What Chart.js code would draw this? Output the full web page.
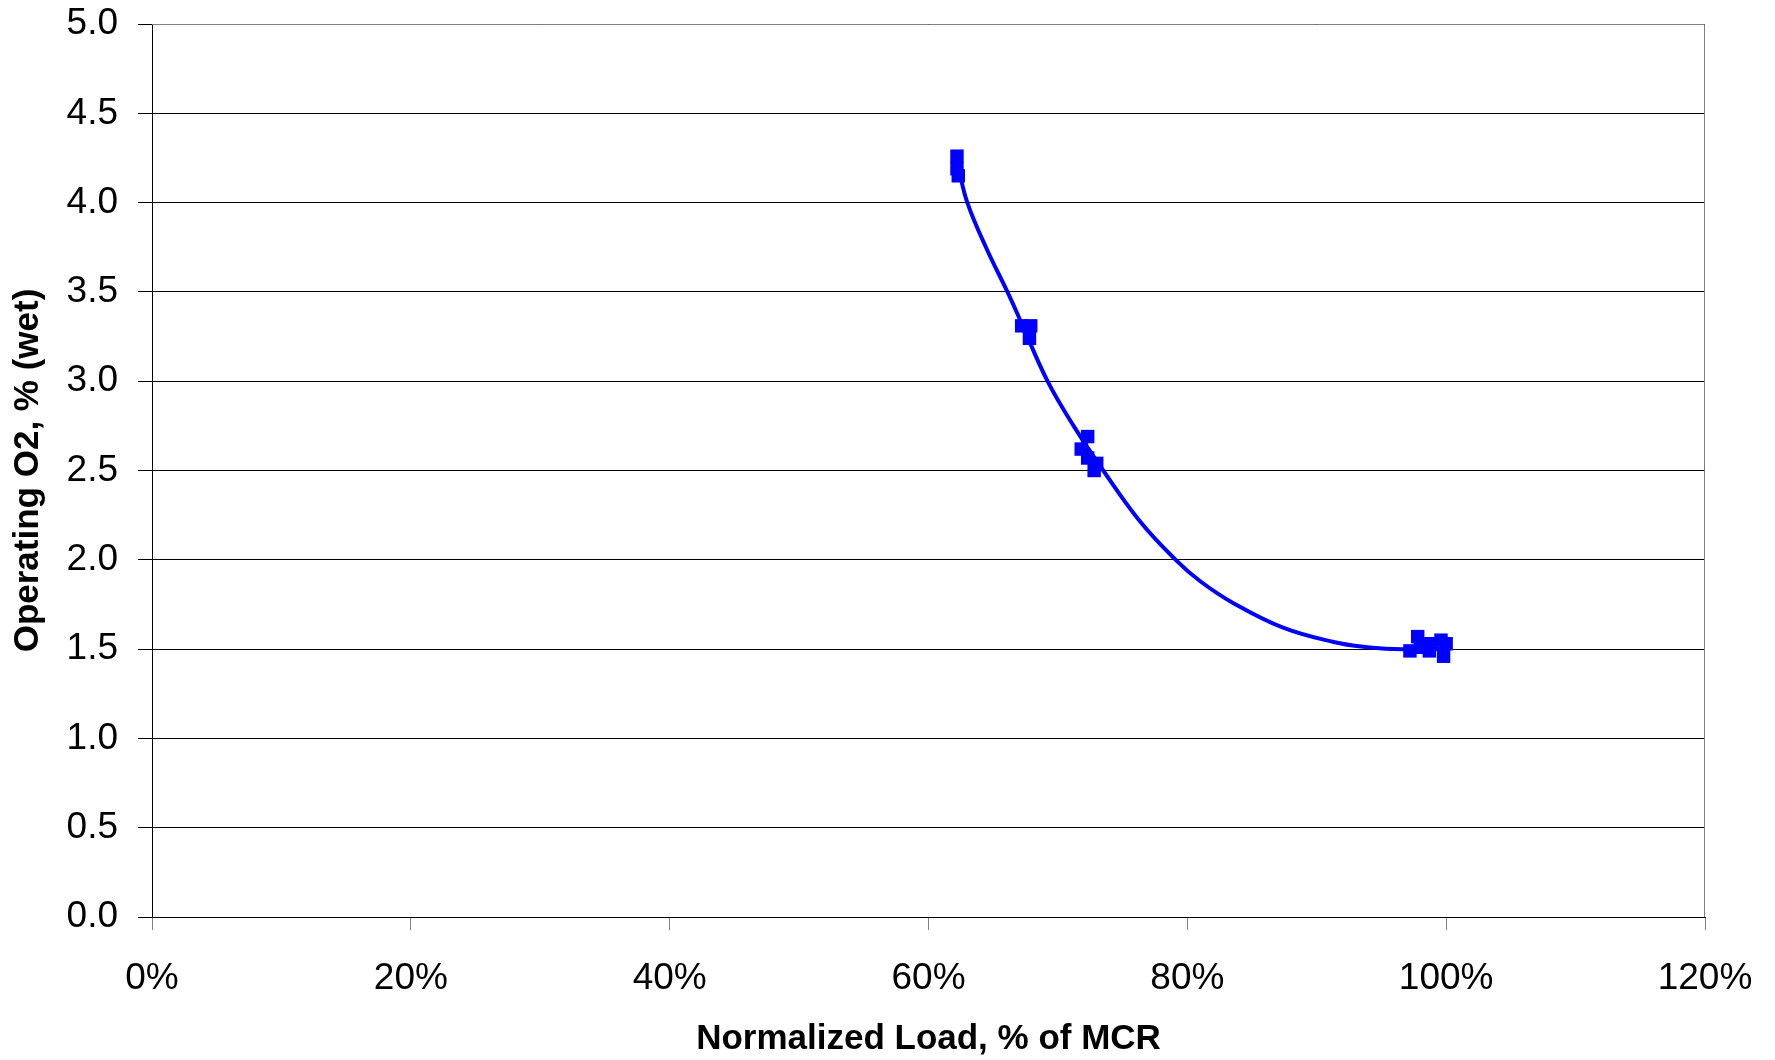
<!DOCTYPE html>
<html>
<head>
<meta charset="utf-8">
<script src="https://cdn.jsdelivr.net/npm/chart.js@4.4.1/dist/chart.umd.min.js"></script>
<style>
  html, body { margin: 0; padding: 0; background: #fff; }
  .chart-container { width: 1775px; height: 1060px; position: relative; }
</style>
</head>
<body>
<div class="chart-container">
    <canvas id="o2Chart"></canvas>
</div>

<script>
// measured points (normalized load %, operating O2 %)
const loadPct = [62.2, 62.2, 62.3, 67.2, 67.9, 67.8, 71.8, 72.3, 72.3, 73.0, 72.8,
                 97.2, 97.8, 98.0, 98.7, 98.8, 99.6, 100.0, 99.8];
const o2Wet   = [4.26, 4.19, 4.15, 3.31, 3.31, 3.24, 2.62, 2.69, 2.57, 2.54, 2.50,
                 1.49, 1.57, 1.51, 1.49, 1.53, 1.55, 1.53, 1.46];

// trendline
const trendLoad = [62.3, 63.0, 64.5, 66.1, 67.1, 69.2, 71.3, 73.5, 76.4, 79.1, 81.0,
                   83.5, 87.4, 91.3, 93.9, 95.9, 98.0, 100.2];
const trendO2   = [4.20, 4.00, 3.74, 3.50, 3.34, 3.00, 2.74, 2.50, 2.21, 2.00, 1.88,
                   1.76, 1.62, 1.54, 1.51, 1.50, 1.50, 1.50];

const yTicks = [0, 0.5, 1.0, 1.5, 2.0, 2.5, 3.0, 3.5, 4.0, 4.5, 5.0];
const xTicks = [0, 20, 40, 60, 80, 100, 120];

const points = loadPct.map((x, i) => ({ x: x, y: o2Wet[i] }));
const trend = trendLoad.map((x, i) => ({ x: x, y: trendO2[i] }));

const FONT = '"Liberation Sans", Arial, sans-serif';

// gray box around the plot area, black left axis on top
const plotBorder = {
    id: 'plotBorder',
    beforeDatasetsDraw(chart) {
        const a = chart.chartArea;
        const ctx = chart.ctx;
        ctx.save();
        ctx.strokeStyle = '#808080';
        ctx.lineWidth = 1;
        ctx.beginPath();
        ctx.moveTo(a.left, a.top + 0.5);
        ctx.lineTo(a.right - 0.5, a.top + 0.5);
        ctx.lineTo(a.right - 0.5, a.bottom);
        ctx.stroke();
        ctx.restore();
    }
};

new Chart(document.getElementById('o2Chart').getContext('2d'), {
    type: 'scatter',
    data: {
        datasets: [
            {
                label: 'Trend',
                data: trend,
                showLine: true,
                borderColor: '#0000FF',
                borderWidth: 4,
                pointRadius: 0,
                tension: 0.4,
                fill: false,
                order: 0
            },
            {
                label: 'O2',
                data: points,
                pointStyle: 'rect',
                pointRadius: 9.5,
                backgroundColor: '#0000FF',
                borderColor: '#0000FF',
                borderWidth: 0,
                order: 1
            }
        ]
    },
    options: {
        responsive: true,
        maintainAspectRatio: false,
        animation: false,
        layout: { padding: { top: 24, right: 70, bottom: 0, left: 0 } },
        plugins: {
            legend: { display: false },
            tooltip: { enabled: false }
        },
        scales: {
            x: {
                type: 'linear',
                min: 0,
                max: 120,
                afterBuildTicks: s => { s.ticks = xTicks.map(v => ({ value: v })); },
                afterFit: s => {
                    s.height = 1060 - 917;
                    s.paddingLeft = 0;
                    s.paddingRight = 0;
                },
                border: { display: true, color: '#000', width: 1 },
                grid: {
                    drawOnChartArea: false,
                    color: '#808080',
                    tickLength: 13
                },
                ticks: {
                    color: '#000',
                    padding: 27,
                    font: { family: FONT, size: 37 },
                    callback: v => v + '%'
                },
                title: {
                    display: true,
                    text: 'Normalized Load, % of MCR',
                    color: '#000',
                    font: { family: FONT, size: 35, weight: 'bold' },
                    padding: { top: 20, bottom: 0 }
                }
            },
            y: {
                min: 0,
                max: 5,
                afterBuildTicks: s => { s.ticks = yTicks.map(v => ({ value: v })); },
                afterFit: s => {
                    s.width = 152;
                    s.paddingTop = 0;
                    s.paddingBottom = 0;
                },
                border: { display: true, color: '#000', width: 1 },
                grid: {
                    color: '#000',
                    lineWidth: 1,
                    tickLength: 14
                },
                ticks: {
                    color: '#000',
                    padding: 20,
                    font: { family: FONT, size: 37 },
                    callback: v => v.toFixed(1)
                },
                title: {
                    display: true,
                    text: 'Operating O2, % (wet)',
                    color: '#000',
                    font: { family: FONT, size: 35, weight: 'bold' },
                    padding: { top: 7, bottom: 0 }
                }
            }
        }
    },
    plugins: [plotBorder]
});
</script>
</body>
</html>
